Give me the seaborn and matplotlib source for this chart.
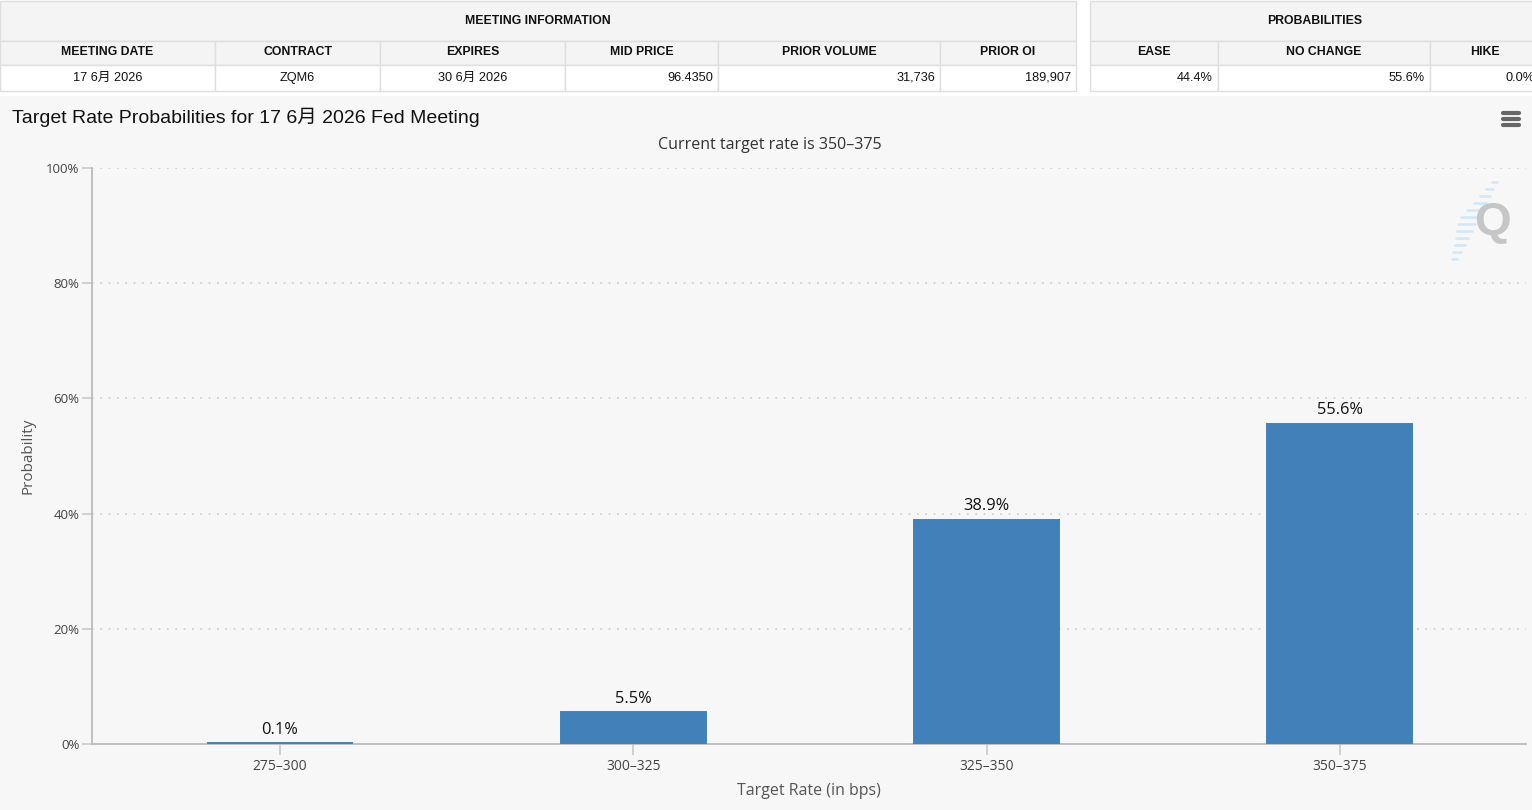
import matplotlib
matplotlib.use("Agg")
import matplotlib.pyplot as plt
import seaborn as sns
from matplotlib.patches import Rectangle

# data
categories = ["275–300", "300–325", "325–350", "350–375"]
probs = [0.1, 5.5, 38.9, 55.6]
meeting_cols = ["MEETING DATE", "CONTRACT", "EXPIRES", "MID PRICE", "PRIOR VOLUME", "PRIOR OI"]
meeting_vals = ["17 6月 2026", "ZQM6", "30 6月 2026", "96.4350", "31,736", "189,907"]
prob_cols = ["EASE", "NO CHANGE", "HIKE"]
prob_vals = ["44.4%", "55.6%", "0.0%"]

sns.set_theme(style="white")
FAM = ["Liberation Sans", "Noto Sans CJK SC", "DejaVu Sans"]
CHART_FAM = ["Open Sans", "Noto Sans CJK SC", "DejaVu Sans"]
plt.rcParams["font.family"] = FAM

W, H = 1532, 810
fig = plt.figure(figsize=(W / 100, H / 100), dpi=100, facecolor="white")

# ---- top tables (pixel coords) ----
tab = fig.add_axes([0, 1 - 95 / H, 1, 95 / H])
tab.set_xlim(0, W)
tab.set_ylim(95, 0)
tab.axis("off")
border = "#dedede"
head_bg = "#f4f4f4"


def draw_table(edges, cols, vals, title, aligns):
    x0, x1 = edges[0], edges[-1]
    tab.add_patch(Rectangle((x0, 1), x1 - x0, 40, fc=head_bg, ec=border, lw=1))
    tab.text((x0 + x1) / 2, 21, title, ha="center", va="center", fontsize=8.8,
             fontweight="bold", color="#111")
    for i, (c, v) in enumerate(zip(cols, vals)):
        a, b = edges[i], edges[i + 1]
        tab.add_patch(Rectangle((a, 41), b - a, 24, fc=head_bg, ec=border, lw=1))
        tab.add_patch(Rectangle((a, 65), b - a, 26, fc="white", ec=border, lw=1))
        tab.text((a + b) / 2, 52, c, ha="center", va="center", fontsize=8.8,
                 fontweight="bold", color="#111")
        if aligns[i] == "center":
            tab.text((a + b) / 2, 78, v, ha="center", va="center", fontsize=9.2, color="#111")
        else:
            tab.text(b - 5, 78, v, ha="right", va="center", fontsize=9.2, color="#111")


draw_table([0, 215, 380, 565, 718, 940, 1076], meeting_cols, meeting_vals,
           "MEETING INFORMATION", ["center"] * 3 + ["right"] * 3)
draw_table([1090, 1218, 1430, 1540], prob_cols, prob_vals,
           "PROBABILITIES", ["right"] * 3)

# ---- chart background ----
fig.patches.append(Rectangle((0, 0), 1, 1 - 96 / H, transform=fig.transFigure,
                             fc="#f7f7f7", ec="none", zorder=-10))

ax = fig.add_axes([92 / W, 1 - 744 / H, (1526 - 92) / W, (744 - 168) / H])
ax.set_facecolor("#f7f7f7")
sns.barplot(x=categories, y=probs, color="#4180b8", width=0.41, saturation=1,
            ax=ax, zorder=3)
for p in ax.patches:
    p.set_edgecolor("#4180b8")
    p.set_linewidth(1.4)

ax.set_xlim(-0.532, 3.527)
ax.set_ylim(0, 100)
ax.set_yticks([0, 20, 40, 60, 80, 100])
ax.set_yticklabels([f"{v}%" for v in [0, 20, 40, 60, 80, 100]])
ax.yaxis.grid(True, linestyle=(0, (1, 4)), color="#cfcfcf", linewidth=1.2)
ax.xaxis.grid(False)
for s in ["top", "right"]:
    ax.spines[s].set_visible(False)
ax.spines["left"].set_color("#b8b8b8")
ax.spines["bottom"].set_color("#b8b8b8")
ax.tick_params(axis="y", left=True, length=7, color="#cccccc", labelsize=9.5,
               labelcolor="#444", pad=2)
ax.tick_params(axis="x", bottom=True, length=8, color="#cccccc", labelsize=10,
               labelcolor="#444", pad=3)
for t in ax.get_xticklabels() + ax.get_yticklabels():
    t.set_family(CHART_FAM)

labels = ax.bar_label(ax.containers[0], fmt="%.1f%%", padding=4, fontsize=11.8, color="#111")
for t in labels:
    t.set_family(CHART_FAM)

ax.set_xlabel("Target Rate (in bps)", fontsize=11.5, color="#555", family=CHART_FAM, labelpad=6)
ax.set_ylabel("Probability", fontsize=11, color="#555", family=CHART_FAM, labelpad=8)

fig.text(12 / W, 1 - 117 / H, "Target Rate Probabilities for 17 6月 2026 Fed Meeting",
         ha="left", va="center", fontsize=14, color="#111", family=FAM)
fig.text(770 / W, 1 - 145 / H, "Current target rate is 350–375", ha="center",
         va="center", fontsize=11.5, color="#333", family=CHART_FAM)

# hamburger menu icon
for yy in [113, 119, 125]:
    fig.add_artist(plt.Line2D([1503 / W, 1519 / W], [1 - yy / H, 1 - yy / H],
                              color="#666", lw=3, solid_capstyle="round"))
# watermark: light blue dashes behind a grey Q
for k in range(12):
    yy = 182 + k * 7
    xr = 1497 - k * 3.6
    ln = 5 + 14 * min(k, 11 - k) / 5.5
    fig.add_artist(plt.Line2D([(xr - ln) / W, xr / W], [1 - yy / H, 1 - yy / H],
                              color="#d3e9f7", lw=2, zorder=1))
fig.text(1493 / W, 1 - 223 / H, "Q", ha="center", va="center", fontsize=34,
         fontweight="bold", color="#c6c6c6", family=FAM, zorder=5)

fig.savefig("out.png", dpi=100, facecolor=fig.get_facecolor())
